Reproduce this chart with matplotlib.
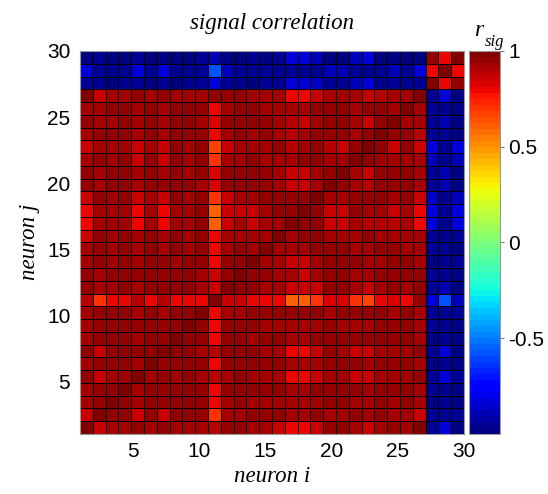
import matplotlib
matplotlib.use('Agg')
import matplotlib.pyplot as plt
import numpy as np

plt.rcParams['font.family'] = 'Liberation Sans'

n_neurons = 30

# Signal correlations, lower triangle only: row j holds r(j, 1..j-1); diagonal is 1
r_lower = [
    [],
    [0.86],
    [0.92, 0.96],
    [0.92, 0.96, 0.96],
    [0.96, 0.86, 0.92, 0.92],
    [0.92, 0.96, 0.96, 0.96, 0.92],
    [0.96, 0.86, 0.96, 0.96, 0.96, 0.96],
    [0.92, 0.96, 0.96, 0.96, 0.92, 0.96, 0.96],
    [0.92, 0.96, 0.96, 0.96, 0.96, 0.96, 0.96, 0.96],
    [0.92, 0.96, 0.96, 0.96, 0.92, 0.96, 0.92, 0.96, 0.96],
    [0.88, 0.70, 0.80, 0.80, 0.90, 0.80, 0.90, 0.80, 0.80, 0.80],
    [0.96, 0.92, 0.92, 0.96, 0.92, 0.96, 0.96, 0.96, 0.96, 0.92, 0.86],
    [0.96, 0.92, 0.96, 0.96, 0.96, 0.96, 0.96, 0.96, 0.96, 0.92, 0.86, 0.96],
    [0.92, 0.96, 0.92, 0.96, 0.92, 0.96, 0.96, 0.92, 0.96, 0.96, 0.80, 0.96, 0.96],
    [0.92, 0.96, 0.92, 0.96, 0.92, 0.96, 0.92, 0.96, 0.92, 0.96, 0.80, 0.92, 0.96, 0.92],
    [0.86, 0.96, 0.92, 0.96, 0.92, 0.96, 0.92, 0.96, 0.92, 0.96, 0.80, 0.92, 0.92, 0.92, 0.92],
    [0.80, 0.92, 0.92, 0.92, 0.80, 0.92, 0.80, 0.92, 0.92, 0.96, 0.60, 0.86, 0.92, 0.86, 0.92,
     0.92],
    [0.80, 0.92, 0.92, 0.92, 0.80, 0.92, 0.80, 0.92, 0.92, 0.96, 0.60, 0.86, 0.86, 0.86, 0.92,
     0.94, 0.96],
    [0.86, 0.96, 0.92, 0.96, 0.86, 0.92, 0.86, 0.96, 0.92, 0.96, 0.70, 0.86, 0.92, 0.92, 0.96,
     0.96, 0.96, 0.94],
    [0.96, 0.92, 0.96, 0.96, 0.92, 0.96, 0.96, 0.96, 0.96, 0.92, 0.83, 0.96, 0.96, 0.96, 0.96,
     0.92, 0.86, 0.86, 0.92],
    [0.96, 0.92, 0.96, 0.96, 0.92, 0.96, 0.92, 0.96, 0.92, 0.96, 0.83, 0.96, 0.96, 0.96, 0.96,
     0.92, 0.86, 0.86, 0.92, 0.96],
    [0.92, 0.96, 0.92, 0.96, 0.86, 0.96, 0.86, 0.96, 0.92, 0.96, 0.70, 0.92, 0.92, 0.96, 0.92,
     0.92, 0.92, 0.94, 0.96, 0.92, 0.92],
    [0.86, 0.92, 0.92, 0.92, 0.86, 0.92, 0.86, 0.96, 0.92, 0.96, 0.66, 0.86, 0.92, 0.92, 0.92,
     0.94, 0.89, 0.92, 0.94, 0.89, 0.86, 0.94],
    [0.92, 0.96, 0.96, 0.96, 0.92, 0.96, 0.92, 0.96, 0.96, 0.96, 0.80, 0.92, 0.96, 0.92, 0.96,
     0.92, 0.89, 0.92, 0.96, 0.96, 0.96, 0.92, 0.94],
    [0.96, 0.92, 0.92, 0.96, 0.92, 0.96, 0.92, 0.96, 0.96, 0.92, 0.83, 0.96, 0.96, 0.96, 0.96,
     0.92, 0.89, 0.86, 0.92, 0.94, 0.96, 0.92, 0.86, 0.96],
    [0.92, 0.92, 0.96, 0.96, 0.92, 0.96, 0.92, 0.96, 0.96, 0.96, 0.80, 0.92, 0.96, 0.96, 0.92,
     0.92, 0.92, 0.92, 0.94, 0.94, 0.96, 0.92, 0.94, 0.96, 0.92],
    [0.97, 0.86, 0.92, 0.92, 0.96, 0.92, 0.96, 0.92, 0.92, 0.92, 0.94, 0.96, 0.96, 0.92, 0.92,
     0.92, 0.80, 0.80, 0.86, 0.92, 0.92, 0.92, 0.86, 0.89, 0.92, 0.92],
    [-0.94, -0.94, -0.97, -0.94, -0.94, -0.97, -0.94, -0.97, -0.94, -0.94, -0.82, -0.94, -0.94,
     -0.97, -0.94, -0.94, -0.82, -0.82, -0.86, -0.94, -0.94, -0.88, -0.82, -0.94, -0.94, -0.94,
     -0.94],
    [-0.82, -0.94, -0.94, -0.94, -0.82, -0.94, -0.82, -0.94, -0.94, -0.94, -0.58, -0.88, -0.94,
     -0.94, -0.94, -0.94, -0.94, -0.94, -0.94, -0.88, -0.88, -0.94, -0.94, -0.94, -0.88, -0.94,
     -0.82, 0.80],
    [-0.97, -0.94, -0.97, -0.97, -0.94, -0.97, -0.97, -0.97, -0.97, -0.94, -0.88, -0.97, -0.97,
     -0.94, -0.97, -0.94, -0.82, -0.82, -0.88, -0.97, -0.97, -0.88, -0.84, -0.97, -0.97, -0.97,
     -0.97, 0.96, 0.80],
]

tick_vals = [5, 10, 15, 20, 25, 30]
cbar_ticks = [-0.5, 0, 0.5, 1]

# assemble the full symmetric matrix
r_sig = np.eye(n_neurons)
for j, row in enumerate(r_lower):
    for i, v in enumerate(row):
        r_sig[j, i] = v
        r_sig[i, j] = v

serif = dict(family='Liberation Serif', style='italic')

fig = plt.figure(figsize=(5.48, 4.94), dpi=100)
ax = fig.add_axes([80 / 548, 60 / 494, 384 / 548, 383 / 494])

edges = np.linspace(1, n_neurons, n_neurons + 1)
mesh = ax.pcolormesh(edges, edges, r_sig, cmap=plt.get_cmap('jet', 64),
                     vmin=-1, vmax=1, edgecolors='k', linewidth=0.7)
ax.set_xlim(1, n_neurons)
ax.set_ylim(1, n_neurons)
ax.set_xticks(tick_vals)
ax.set_yticks(tick_vals)
ax.tick_params(length=0, labelsize=15)
ax.tick_params(axis='x', pad=6)
ax.tick_params(axis='y', pad=7)
for s in ax.spines.values():
    s.set_edgecolor('0.6')
    s.set_linewidth(0.8)

cax = fig.add_axes([469 / 548, 60 / 494, 31 / 548, 383 / 494])
cb = fig.colorbar(mesh, cax=cax, ticks=cbar_ticks)
cb.ax.set_yticklabels(['-0.5', '0', '0.5', '1'])
cb.outline.set_edgecolor('0.6')
cb.outline.set_linewidth(0.8)
cax.tick_params(labelsize=15, length=3, direction='out', color='0.5', pad=3)

fig.text(272 / 548, 1 - 24 / 494, 'signal correlation', ha='center', va='center',
         fontsize=16.5, **serif)
fig.text(272 / 548, 1 - 482 / 494, 'neuron i', ha='center', va='baseline',
         fontsize=16.5, **serif)
fig.text(30 / 548, 1 - 242 / 494, 'neuron j', ha='center', va='center',
         rotation=90, fontsize=16.5, **serif)
fig.text(479 / 548, 1 - 30 / 494, 'r', ha='center', va='center', fontsize=17, **serif)
fig.text(495 / 548, 1 - 42 / 494, 'sig', ha='center', va='center', fontsize=12, **serif)

fig.savefig('out.png', dpi=100)
